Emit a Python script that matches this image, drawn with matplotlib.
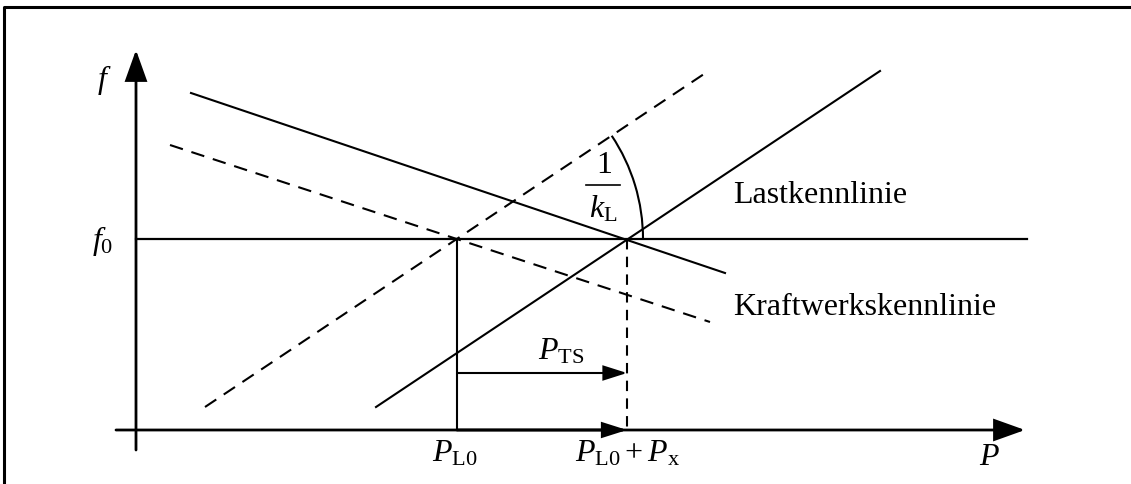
import matplotlib
matplotlib.use("Agg")
import matplotlib.pyplot as plt
import numpy as np
from matplotlib.patches import Arc, FancyArrowPatch

plt.rcParams["font.family"] = ["Liberation Serif", "DejaVu Serif"]
plt.rcParams["mathtext.fontset"] = "custom"
plt.rcParams["mathtext.rm"] = "Liberation Serif"
plt.rcParams["mathtext.it"] = "Liberation Serif:italic"

# sketch coordinates (pixels, y pointing down)
W, H = 1131, 484
frame_x = [4, 4, 1140]
frame_y = [490, 7, 7]

origin_x, origin_y = 136, 430
f_axis_y = [450, 50]
p_axis_x = [116, 1025]
f0_y = 239
f0_x = [136, 1027]

p_l0 = 457
p_l0_px = 627
p_ts_y = 373

# characteristic lines (start, end)
load_solid = [(191, 93), (725, 273)]
load_dashed = [(170, 145), (710, 322)]
plant_solid = [(376, 407), (880, 71)]
plant_dashed = [(205, 407), (710, 70)]

# slope label 1/k_L
frac_x = 603
frac_bar_y = 185
frac_bar_half = 17


def arrow(ax, tail, tip, head_len, head_half, lw):
    style = f"-|>,head_length={head_len},head_width={head_half}"
    ax.add_patch(FancyArrowPatch(tail, tip, arrowstyle=style, mutation_scale=1,
                                 lw=lw, color="black", shrinkA=0, shrinkB=0,
                                 joinstyle="miter"))


fig = plt.figure(figsize=(W / 100, H / 100), dpi=100)
ax = fig.add_axes([0, 0, 1, 1])
ax.set_xlim(0, W)
ax.set_ylim(H, 0)
ax.axis("off")

ax.plot(frame_x, frame_y, color="black", lw=2.2, solid_capstyle="butt")

# axes
arrow(ax, (origin_x, f_axis_y[0]), (origin_x, f_axis_y[1]), 19, 6.8, 2.0)
arrow(ax, (p_axis_x[0], origin_y), (p_axis_x[1], origin_y), 19, 6.8, 2.0)
arrow(ax, (p_l0, origin_y), (p_l0_px, origin_y), 14.5, 4.6, 2.0)

ax.plot(f0_x, [f0_y, f0_y], color="black", lw=1.6)

dash = (0, (6.5, 4.3))
for (x0, y0), (x1, y1) in [load_solid, plant_solid]:
    ax.plot([x0, x1], [y0, y1], color="black", lw=1.5)
for (x0, y0), (x1, y1) in [load_dashed, plant_dashed]:
    ax.plot([x0, x1], [y0, y1], color="black", lw=1.5, linestyle=dash)

# operating point drop lines
ax.plot([p_l0, p_l0], [f0_y, origin_y], color="black", lw=1.5)
ax.plot([p_l0_px, p_l0_px], [f0_y, origin_y], color="black", lw=1.5,
        linestyle=(0, (5, 3.5)))
arrow(ax, (p_l0, p_ts_y), (p_l0_px, p_ts_y), 14.5, 4.6, 1.5)

# angle arc around the shifted operating point
(ax0, ay0), (ax1, ay1) = plant_dashed
angle = np.degrees(np.arctan2(ay0 - ay1, ax1 - ax0))
radius = 186
ax.add_patch(Arc((p_l0, f0_y), 2 * radius, 2 * radius, theta1=-angle, theta2=0,
                 color="black", lw=1.5))

fs = 23
ax.text(104, 88, r"$f$", fontsize=fs, ha="center", va="baseline")
ax.text(92, 249, r"$f_0$", fontsize=fs, ha="left", va="baseline")
ax.text(989, 465, r"$P$", fontsize=fs, ha="center", va="baseline")
ax.text(p_l0 - 2, 461, r"$P_\mathrm{L0}$", fontsize=fs, ha="center", va="baseline")
ax.text(p_l0_px + 1, 461, r"$P_\mathrm{L0} + P_\mathrm{x}$", fontsize=fs,
        ha="center", va="baseline")
ax.text(561, 360, r"$P_\mathrm{TS}$", fontsize=fs, ha="center", va="baseline")

ax.text(frac_x + 1, frac_bar_y - 12, "1", fontsize=fs, ha="center", va="baseline")
ax.plot([frac_x - frac_bar_half, frac_x + frac_bar_half], [frac_bar_y, frac_bar_y],
        color="black", lw=1.2)
ax.text(frac_x, frac_bar_y + 33, r"$k_\mathrm{L}$", fontsize=fs, ha="center",
        va="baseline")

ax.text(733, 203, "Lastkennlinie", fontsize=fs, ha="left", va="baseline")
ax.text(733, 315, "Kraftwerkskennlinie", fontsize=fs, ha="left", va="baseline")

fig.savefig("out.png", dpi=100)
